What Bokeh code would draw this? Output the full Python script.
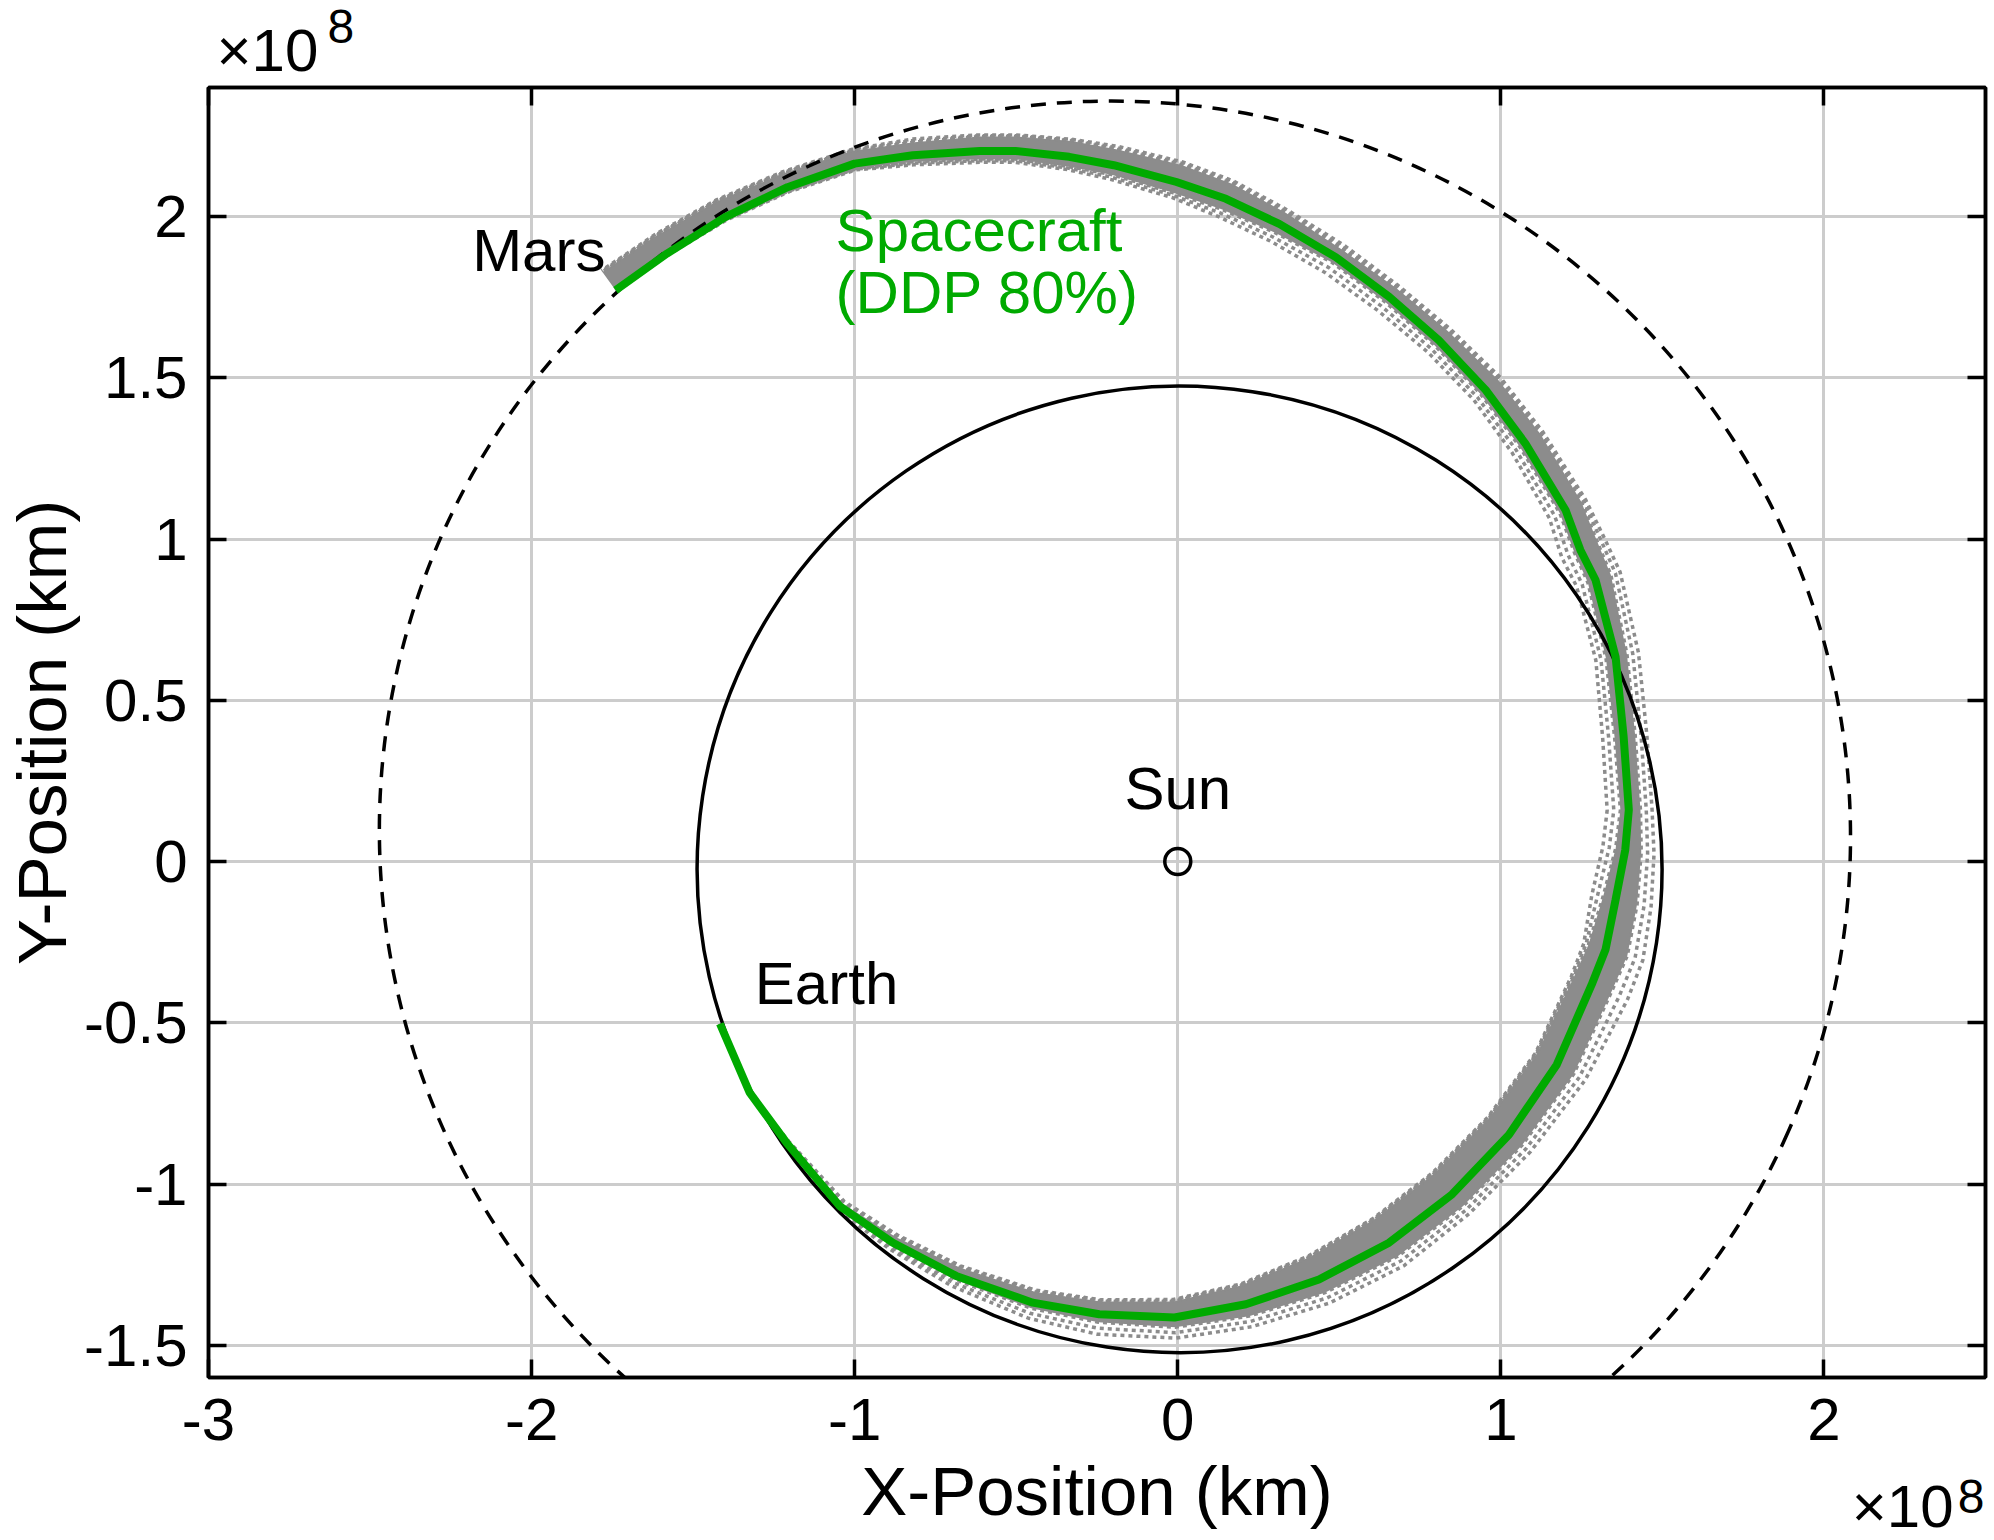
import numpy as np
from bokeh.plotting import figure
from bokeh.models import Range1d, FixedTicker, LinearAxis, Title
from bokeh.core.properties import value
from bokeh.embed import file_html
from bokeh.resources import INLINE

# ---------------- data (positions in units of 1e8 km) ----------------
x_ticks = [-3, -2, -1, 0, 1, 2]
x_tick_labels = ["-3", "-2", "-1", "0", "1", "2"]
y_ticks = [-1.5, -1, -0.5, 0, 0.5, 1, 1.5, 2]
y_tick_labels = ["-1.5", "-1", "-0.5", "0", "0.5", "1", "1.5", "2"]
multiplier_base = "×10"
multiplier_exponent = "8"

# heliocentric orbits: semi-major axis (1e8 km), eccentricity, longitude of perihelion (deg)
earth_orbit = dict(a=1.496, e=0.0167, peri_deg=102.9)
mars_orbit = dict(a=2.279, e=0.0934, peri_deg=336.0)

sun_x = [0.0]
sun_y = [0.0]

# nominal spacecraft trajectory (DDP 80%), Earth -> Mars
sc_x = [-1.417, -1.325, -1.211, -1.046, -0.882, -0.686, -0.449, -0.243, -0.010, 0.211,
        0.437, 0.654, 0.849, 1.025, 1.173, 1.281, 1.324, 1.355, 1.385, 1.396,
        1.380, 1.355, 1.293, 1.246, 1.200, 1.076, 0.953, 0.808, 0.654, 0.489,
        0.314, 0.149, -0.004, -0.198, -0.336, -0.502, -0.613, -0.820, -1.000, -1.208,
        -1.401, -1.581, -1.740]
sc_y = [-0.503, -0.717, -0.872, -1.069, -1.182, -1.285, -1.368, -1.404, -1.414, -1.373,
        -1.296, -1.182, -1.032, -0.847, -0.630, -0.382, -0.273, -0.119, 0.036, 0.160,
        0.387, 0.635, 0.873, 0.966, 1.090, 1.296, 1.462, 1.616, 1.751, 1.874,
        1.977, 2.055, 2.107, 2.159, 2.185, 2.203, 2.203, 2.190, 2.164, 2.091,
        1.998, 1.885, 1.771]

# spread of the dispersed (Monte Carlo) trajectories around the nominal one,
# perpendicular distance (1e8 km); "in" = toward the Sun, "out" = away from it
spread_core_in = [0, 0, 0.004, 0.012, 0.02, 0.028, 0.034, 0.04, 0.05, 0.06,
                  0.075, 0.085, 0.085, 0.08, 0.07, 0.06, 0.055, 0.04, 0.03, 0.026,
                  0.028, 0.03, 0.025, 0.02, 0.02, 0.02, 0.02, 0.02, 0.02, 0.02,
                  0.03, 0.035, 0.035, 0.03, 0.03, 0.025, 0.025, 0.02, 0.015, 0.01,
                  0.005, 0.0, 0.0]
spread_core_out = [0, 0, 0.0, 0.003, 0.008, 0.012, 0.018, 0.025, 0.03, 0.038,
                   0.045, 0.05, 0.05, 0.052, 0.06, 0.065, 0.07, 0.068, 0.05, 0.036,
                   0.036, 0.036, 0.05, 0.058, 0.055, 0.055, 0.05, 0.04, 0.035, 0.03,
                   0.04, 0.05, 0.055, 0.05, 0.05, 0.045, 0.045, 0.04, 0.04, 0.045,
                   0.055, 0.065, 0.07]
spread_dot_in = [0, 0, 0.008, 0.02, 0.028, 0.034, 0.04, 0.045, 0.056, 0.065,
                 0.08, 0.09, 0.09, 0.085, 0.075, 0.068, 0.07, 0.075, 0.07, 0.067,
                 0.065, 0.062, 0.062, 0.062, 0.056, 0.05, 0.048, 0.05, 0.055, 0.058,
                 0.06, 0.06, 0.05, 0.045, 0.04, 0.035, 0.035, 0.03, 0.02, 0.015,
                 0.01, 0.005, 0.0]
spread_dot_out = [0, 0, 0.003, 0.012, 0.022, 0.034, 0.05, 0.062, 0.064, 0.072,
                  0.08, 0.085, 0.08, 0.085, 0.10, 0.12, 0.12, 0.112, 0.09, 0.072,
                  0.072, 0.072, 0.08, 0.083, 0.07, 0.065, 0.06, 0.05, 0.045, 0.045,
                  0.05, 0.06, 0.065, 0.06, 0.055, 0.05, 0.05, 0.05, 0.045, 0.05,
                  0.06, 0.07, 0.075]

labels_text = ["Mars", "Earth", "Sun"]
spacecraft_text = ["Spacecraft", "(DDP 80%)"]

# ---------------- styles / placement ----------------
FONT = "Liberation Sans"
GREEN = "#00aa00"
GRAY = "#8c8c8c"

p = figure(width=1994, height=1540,
           x_range=Range1d(-3, 2.5), y_range=Range1d(-1.6, 2.4),
           output_backend="svg", toolbar_location=None,
           min_border_left=208, min_border_right=9, min_border_top=87, min_border_bottom=163)
p.background_fill_color = "white"
p.border_fill_color = "white"
p.outline_line_color = "black"
p.outline_line_width = 3.5

# main axes
p.xaxis.ticker = FixedTicker(ticks=x_ticks)
p.yaxis.ticker = FixedTicker(ticks=y_ticks)
p.xaxis.major_label_overrides = dict(zip(x_ticks, x_tick_labels))
p.yaxis.major_label_overrides = dict(zip(y_ticks, y_tick_labels))
p.xaxis.axis_label = "X-Position (km)"
p.yaxis.axis_label = "Y-Position (km)"
for ax, ls, als in ((p.xaxis, 21, 10), (p.yaxis, 21, 0)):
    ax.major_label_text_font = FONT
    ax.major_label_text_font_size = "60px"
    ax.major_label_text_color = "black"
    ax.axis_label_text_font = FONT
    ax.axis_label_text_font_size = "69px"
    ax.axis_label_text_font_style = "normal"
    ax.axis_label_text_color = "black"
    ax.axis_label_standoff = als
    ax.major_label_standoff = ls
    ax.major_tick_in = 18
    ax.major_tick_out = 0
    ax.major_tick_line_width = 3.5
    ax.major_tick_line_color = "black"
    ax.minor_tick_line_color = None
    ax.axis_line_width = 3.5
    ax.axis_line_color = "black"
p.yaxis.major_label_orientation = "horizontal"

p.xgrid.ticker = FixedTicker(ticks=x_ticks)
p.ygrid.ticker = FixedTicker(ticks=y_ticks)
for g in (p.xgrid, p.ygrid):
    g.grid_line_color = "#cccccc"
    g.grid_line_width = 3

# mirrored tick marks on top and right (box)
for side, ticks in (("right", y_ticks), ("above", x_ticks)):
    ax2 = LinearAxis(ticker=FixedTicker(ticks=ticks),
                     major_label_overrides={t: "" for t in ticks},
                     major_label_standoff=0, major_tick_in=18, major_tick_out=0,
                     major_tick_line_width=3.5, minor_tick_line_color=None,
                     axis_line_width=3.5, major_label_text_font_size="1px")
    p.add_layout(ax2, side)

# exponent multipliers (top-left and bottom-right of the axes)
mult_style = dict(text_font=FONT, text_font_style="normal", text_color="black")
p.title.text = multiplier_base
p.title.align = "left"
p.title.offset = 8
p.title.standoff = 8
p.title.text_font = FONT
p.title.text_font_size = "60px"
p.title.text_font_style = "normal"
p.title.text_color = "black"

top_exp = Title(text=multiplier_exponent, align="left", vertical_align="top",
                offset=119, standoff=-156, text_font_size="48px", **mult_style)
p.add_layout(top_exp, "above")

bottom_base = Title(text=multiplier_base, align="right", vertical_align="bottom",
                    offset=32, standoff=-325, text_font_size="60px", **mult_style)
bottom_exp = Title(text=multiplier_exponent, align="right", vertical_align="bottom",
                   offset=1, standoff=-270, text_font_size="48px", **mult_style)
p.add_layout(bottom_base, "below")
p.add_layout(bottom_exp, "below")
p.below = [bottom_base, bottom_exp] + [r for r in p.below
                                       if r is not bottom_base and r is not bottom_exp]

# ---------------- dispersed trajectories (gray band) ----------------
X = np.array(sc_x)
Y = np.array(sc_y)
tx = np.gradient(X)
ty = np.gradient(Y)
nn = np.hypot(tx, ty)
nx, ny = -ty / nn, tx / nn   # left of travel = toward the Sun


def shifted(d):
    d = np.asarray(d, dtype=float)
    return X + nx * d, Y + ny * d


cin_x, cin_y = shifted(spread_core_in)
cout_x, cout_y = shifted(-np.asarray(spread_core_out))
p.patch(np.concatenate([cin_x, cout_x[::-1]]), np.concatenate([cin_y, cout_y[::-1]]),
        fill_color=GRAY, line_color=None)
dotted_sets = [
    np.asarray(spread_dot_in),
    (np.asarray(spread_dot_in) + np.asarray(spread_core_in)) / 2,
    np.asarray(spread_core_in),
    -np.asarray(spread_core_out),
    -(np.asarray(spread_dot_out) + np.asarray(spread_core_out)) / 2,
    -np.asarray(spread_dot_out),
]
for d in dotted_sets:
    lx, ly = shifted(d)
    p.line(lx, ly, line_color=GRAY, line_width=3.5, line_dash="4 4")

# ---------------- orbits ----------------
for orb, dash in ((earth_orbit, "solid"), (mars_orbit, "15 11")):
    a, e, w = orb["a"], orb["e"], np.radians(orb["peri_deg"])
    b = a * np.sqrt(1 - e ** 2)
    cx, cy = -a * e * np.cos(w), -a * e * np.sin(w)
    p.ellipse(x=[cx], y=[cy], width=[2 * a], height=[2 * b], angle=[w],
              fill_color=None, line_color="black", line_width=3.5, line_dash=dash)

# nominal trajectory
p.line(sc_x, sc_y, line_color=GREEN, line_width=8)

# Sun
p.scatter(sun_x, sun_y, marker="circle", size=26, fill_color=None,
          line_color="black", line_width=3.5)

# ---------------- annotations ----------------
p.text(x=[-2.184, -1.309, 0.0], y=[1.894, -0.378, 0.226], text=labels_text,
       text_font=value(FONT), text_font_size="60px", text_color="black",
       text_align=["left", "left", "center"], text_baseline="alphabetic")
p.text(x=[-1.059, -1.059], y=[1.958, 1.765], text=spacecraft_text,
       text_font=value(FONT), text_font_size="60px", text_color=GREEN,
       text_align="left", text_baseline="alphabetic")

open("out.html", "w").write(file_html(p, INLINE))
